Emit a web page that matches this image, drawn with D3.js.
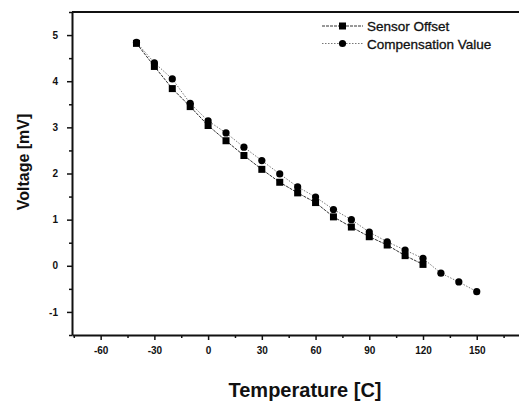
<!DOCTYPE html>
<html>
<head>
<meta charset="utf-8">
<script src="https://cdn.jsdelivr.net/npm/d3@7"></script>
<style>
body { margin: 0; background: #fff; }
text { font-family: "Liberation Sans", Arial, sans-serif; }
</style>
</head>
<body>
<svg id="chart" width="519" height="405"></svg>
<script>
// data
var temps_sensor = [-40, -30, -20, -10, 0, 10, 20, 30, 40, 50, 60, 70, 80, 90, 100, 110, 120];
var sensor_offset = [4.82, 4.32, 3.84, 3.45, 3.04, 2.71, 2.39, 2.09, 1.81, 1.58, 1.37, 1.06, 0.84, 0.63, 0.45, 0.22, 0.03];
var temps_comp = [-40, -30, -20, -10, 0, 10, 20, 30, 40, 50, 60, 70, 80, 90, 100, 110, 120, 130, 140, 150];
var comp_value = [4.84, 4.40, 4.05, 3.52, 3.14, 2.88, 2.57, 2.28, 1.99, 1.71, 1.49, 1.22, 1.00, 0.73, 0.52, 0.34, 0.16, -0.16, -0.35, -0.56];
var x_ticks = [-60, -30, 0, 30, 60, 90, 120, 150];
var y_ticks = [-1, 0, 1, 2, 3, 4, 5];
var legend_names = ["Sensor Offset", "Compensation Value"];

var svg = d3.select("#chart");
var plotL = 72, plotT = 12, plotR = 521.5, plotB = 335;

var x = d3.scaleLinear().domain([-76, 175]).range([plotL, plotR]);
var y = d3.scaleLinear().domain([-1.5, 5.5]).range([plotB, plotT]);

var plain = function(d){ return String(d); }; // keep the hyphen minus

// minor ticks
var x_minor = d3.range(-75, 176, 15).filter(function(d){ return x_ticks.indexOf(d) < 0; });
var y_minor = d3.range(-1.5, 5.6, 0.5).filter(function(d){ return d % 1 !== 0; });

svg.append("g")
	.attr("transform", "translate(0," + plotB + ")")
	.call(d3.axisBottom(x).tickValues(x_minor).tickSize(3).tickFormat(""))
	.call(function(g){ g.select(".domain").remove(); });
svg.append("g")
	.attr("transform", "translate(" + plotL + ",0)")
	.call(d3.axisLeft(y).tickValues(y_minor).tickSize(3).tickFormat(""))
	.call(function(g){ g.select(".domain").remove(); });

svg.append("g")
	.attr("transform", "translate(0," + plotB + ")")
	.call(d3.axisBottom(x).tickValues(x_ticks).tickFormat(plain).tickSize(5).tickPadding(7).tickSizeOuter(0));
svg.append("g")
	.attr("transform", "translate(" + plotL + ",0)")
	.call(d3.axisLeft(y).tickValues(y_ticks).tickFormat(plain).tickSize(5).tickPadding(9).tickSizeOuter(0));

svg.selectAll(".tick line").attr("stroke", "#111").attr("stroke-width", 1.5);
svg.selectAll(".domain").attr("stroke", "#111").attr("stroke-width", 2);
svg.selectAll(".tick text")
	.attr("font-size", 10)
	.attr("font-weight", "bold")
	.attr("fill", "#111");

// top frame line
svg.append("line")
	.attr("x1", plotL).attr("x2", 519)
	.attr("y1", plotT).attr("y2", plotT)
	.attr("stroke", "#111").attr("stroke-width", 2);

// lines
var line_sensor = d3.line()
	.x(function(d, i){ return x(temps_sensor[i]); })
	.y(function(d){ return y(d); });
var line_comp = d3.line()
	.x(function(d, i){ return x(temps_comp[i]); })
	.y(function(d){ return y(d); });

svg.append("path")
	.datum(comp_value)
	.attr("d", line_comp)
	.attr("fill", "none")
	.attr("stroke", "#777")
	.attr("stroke-width", 1)
	.attr("stroke-dasharray", "1.5,1.5");
svg.append("path")
	.datum(sensor_offset)
	.attr("d", line_sensor)
	.attr("fill", "none")
	.attr("stroke", "#333")
	.attr("stroke-width", 1)
	.attr("stroke-dasharray", "3,1");

// markers
svg.selectAll(".sq")
	.data(sensor_offset)
	.enter().append("rect")
	.attr("class", "sq")
	.attr("x", function(d, i){ return x(temps_sensor[i]) - 3.5; })
	.attr("y", function(d){ return y(d) - 3.5; })
	.attr("width", 7).attr("height", 7)
	.attr("fill", "#000");
svg.selectAll(".ci")
	.data(comp_value)
	.enter().append("circle")
	.attr("class", "ci")
	.attr("cx", function(d, i){ return x(temps_comp[i]); })
	.attr("cy", function(d){ return y(d); })
	.attr("r", 3.6)
	.attr("fill", "#000");

// legend
var lg = svg.append("g").attr("transform", "translate(322,26)");
legend_names.forEach(function(name, i){
	var row = lg.append("g").attr("transform", "translate(0," + (i * 17.5) + ")");
	row.append("line")
		.attr("x1", 0).attr("x2", 41)
		.attr("stroke", i == 0 ? "#333" : "#777")
		.attr("stroke-dasharray", i == 0 ? "3,1" : "1.5,1.5");
	if (i == 0) {
		row.append("rect").attr("x", 17).attr("y", -3.5).attr("width", 7).attr("height", 7).attr("fill", "#000");
	} else {
		row.append("circle").attr("cx", 20.5).attr("r", 3.6).attr("fill", "#000");
	}
	row.append("text")
		.attr("x", 45).attr("y", 5)
		.attr("font-size", 13.5)
		.attr("fill", "#111")
		.attr("stroke", "#111")
		.attr("stroke-width", 0.3)
		.text(name);
});

// axis titles
svg.append("text")
	.attr("x", 305).attr("y", 397)
	.attr("text-anchor", "middle")
	.attr("font-size", 20)
	.attr("font-weight", "bold")
	.attr("fill", "#111")
	.text("Temperature [C]");
svg.append("text")
	.attr("transform", "translate(29,162) rotate(-90)")
	.attr("text-anchor", "middle")
	.attr("font-size", 16)
	.attr("font-weight", "bold")
	.attr("fill", "#111")
	.text("Voltage [mV]");
</script>
</body>
</html>
